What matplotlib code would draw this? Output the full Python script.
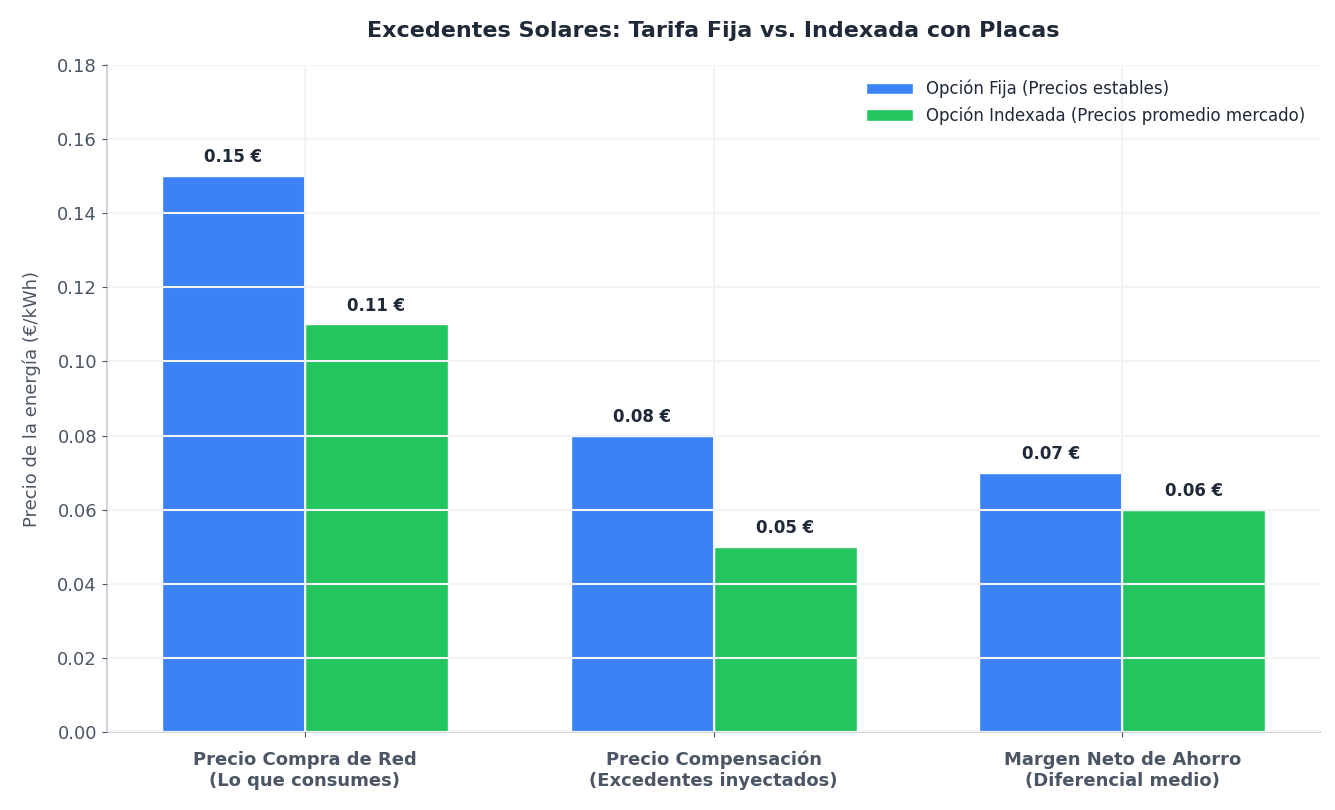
import matplotlib
matplotlib.use("Agg")
import matplotlib.pyplot as plt
import numpy as np

categorias = ["Precio Compra de Red\n(Lo que consumes)",
              "Precio Compensación\n(Excedentes inyectados)",
              "Margen Neto de Ahorro\n(Diferencial medio)"]
fija = [0.15, 0.08, 0.07]
indexada = [0.11, 0.05, 0.06]
series = ["Opción Fija (Precios estables)", "Opción Indexada (Precios promedio mercado)"]

plt.rcParams['font.family'] = ['DejaVu Sans']

fig, ax = plt.subplots(figsize=(13.35, 8.1), dpi=100)
fig.subplots_adjust(left=0.08, right=0.989, top=0.92, bottom=0.096)

x = np.arange(len(categorias))
w = 0.35
b1 = ax.bar(x - w/2, fija, w, color="#3b82f6", edgecolor="white", linewidth=1, label=series[0], zorder=2)
b2 = ax.bar(x + w/2, indexada, w, color="#22c55e", edgecolor="white", linewidth=1, label=series[1], zorder=2)

# etiquetas de valor encima de cada barra
for bars in (b1, b2):
    for r in bars:
        ax.annotate(f"{r.get_height():.2f} €", (r.get_x() + r.get_width()/2, r.get_height()),
                    xytext=(0, 7), textcoords="offset points", ha="center", va="bottom",
                    fontsize=12, fontweight="bold", color="#1f2937")

ticks = np.arange(0, 0.181, 0.02)
ax.set_ylim(0, 0.18)
ax.set_yticks(ticks)
ax.set_yticklabels([f"{v:.2f}" for v in ticks])
ax.set_xticks(x)
ax.set_xticklabels(categorias, fontsize=13, fontweight="bold", color="#4b5563")
ax.tick_params(axis="y", labelsize=13, labelcolor="#4b5563", color="#4b5563")
ax.tick_params(axis="x", color="#4b5563", pad=10)
ax.grid(True, color="#f3f4f6", linewidth=1.5, zorder=3)
ax.set_axisbelow(False)
for s in ("top", "right"):
    ax.spines[s].set_visible(False)
for s in ("left", "bottom"):
    ax.spines[s].set_color("#d1d5db")
    ax.spines[s].set_linewidth(1.5)

ax.set_ylabel("Precio de la energía (€/kWh)", fontsize=13, color="#4b5563", labelpad=12)
ax.set_title("Excedentes Solares: Tarifa Fija vs. Indexada con Placas", fontsize=16,
             fontweight="bold", color="#1f2937", pad=20)
ax.legend(frameon=False, fontsize=12, loc="upper right", labelcolor="#1f2937", handlelength=2.8)

fig.savefig("out.png", dpi=100)
